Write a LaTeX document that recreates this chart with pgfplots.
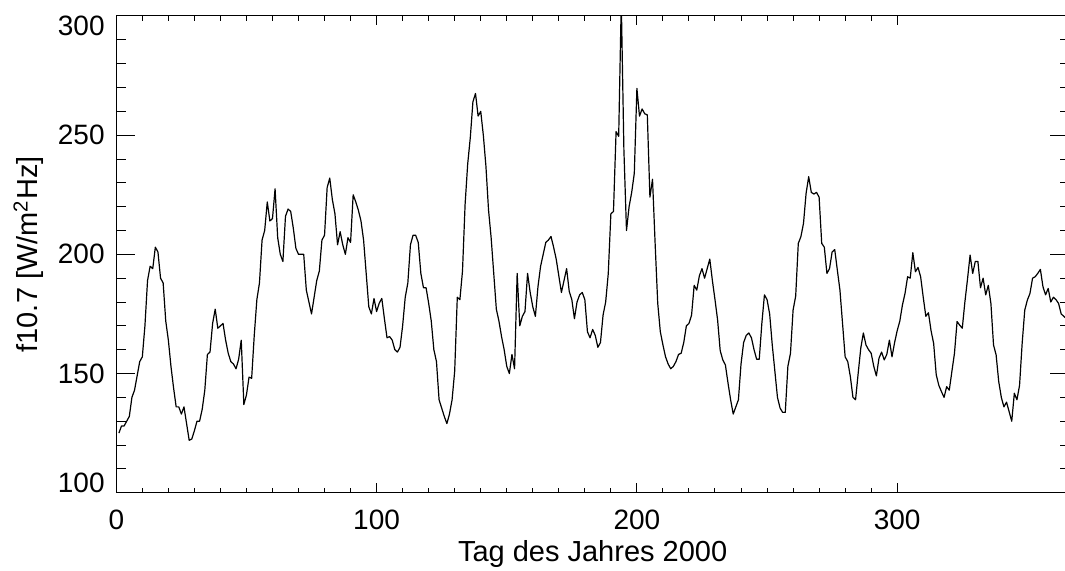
\documentclass[border=0pt]{standalone}
\usepackage{fontspec}
\setmainfont{Liberation Sans}
\usepackage{pgfplots}
\usepackage{pgfplotstable}
\pgfplotsset{compat=1.18}
\pgfplotstableread{
day f
1 125
2 128
3 128
4 130
5 132
6 140
7 143
8 149
9 155
10 157
11 170
12 189
13 195
14 194
15 203
16 201
17 190
18 188
19 172
20 164
21 153
22 144
23 136
24 136
25 133
26 136
27 129
28 122
29 122.5
30 126
31 130
32 130
33 135
34 143
35 158
36 159
37 171
38 177
39 169
40 170
41 171
42 164
43 158.5
44 155
45 154
46 152
47 156
48 164
49 137
50 141
51 148.5
52 148
53 166
54 181
55 188
56 206
57 210
58 222
59 214
60 215
61 227.5
62 207
63 200
64 197
65 216
66 219
67 218
68 211
69 202.5
70 200
71 200
72 200
73 185
74 180
75 175
76 182
77 189
78 193
79 206
80 208
81 228
82 232
83 223
84 217
85 204
86 209.5
87 204
88 200
89 207
90 205
91 225
92 222
93 218.5
94 214
95 206
96 192
97 178
98 175
99 181.5
100 176
101 179.5
102 181.5
103 173
104 165
105 165.5
106 164
107 160
108 159
109 161
110 170
111 182
112 188
113 204
114 208
115 208
116 205
117 192
118 186
119 186
120 179.5
121 172
122 160
123 155
124 139
125 135.5
126 132
127 129
128 133
129 139
130 151
131 182
132 181
133 193
134 221
135 238
136 249
137 264
138 267.5
139 258
140 260
141 250
142 237
143 218.6
144 207
145 192
146 177
147 172
148 165.5
149 160
150 153
151 150
152 158
153 152
154 192
155 170
156 174
157 176
158 192
159 184
160 178
161 174
162 186.5
163 195
164 200
165 205
166 206
167 207.5
168 203
169 198
170 191
171 184
172 189
173 194
174 184.5
175 181
176 173
177 180
178 183
179 184
180 181
181 167.5
182 165
183 168.5
184 166
185 161
186 163
187 174.5
188 180
189 192
190 217
191 218
192 251.5
193 249.5
194 306
195 244
196 210
197 220
198 226
199 234
200 269.6
201 258
202 261
203 259
204 258.5
205 224
206 231.5
207 204.6
208 179.5
209 167.5
210 162
211 157
212 154
213 152
214 153
215 155
216 158
217 158.5
218 163
219 170
220 171
221 174.5
222 187
223 185
224 191
225 194
226 190
227 194
228 198
229 189
230 181
231 172.5
232 159.6
233 155.7
234 153.6
235 146
236 139
237 133
238 136
239 139
240 154
241 163
242 166
243 167
244 165
245 160
246 156
247 156
248 171
249 183
250 181
251 175
252 162
253 151
254 140
255 135.5
256 133.7
257 133.7
258 153
259 158.5
260 176.6
261 182.5
262 204.6
263 207.4
264 213
265 225.6
266 232.6
267 226
268 225.3
269 226
270 224
271 204.6
272 203
273 192
274 194
275 201
276 202
277 193.4
278 185
279 171
280 157
281 155
282 148.7
283 140
284 139
285 150
286 160.6
287 167
288 162
289 160
290 158.5
291 153
292 149
293 156.4
294 159
295 155.7
296 158
297 164
298 157
299 163
300 168
301 172
302 178.7
303 183.6
304 190.6
305 190
306 200.7
307 192.7
308 194.5
309 190.6
310 182
311 174
312 175.5
313 168
314 162.6
315 149.4
316 145
317 142.4
318 140
319 144.5
320 143
321 150.8
322 158.5
323 171.8
324 170.3
325 169
326 180
327 189.5
328 199.7
329 192
330 197
331 197
332 186
333 190
334 183
335 187
336 179.4
337 162
338 157.8
339 146.6
340 140
341 136
342 138
343 134
344 130
345 141.7
346 139
347 145
348 162.6
349 176.6
350 180.8
351 183.6
352 190
353 190.6
354 192
355 193.7
356 186.4
357 183
358 185.7
359 180
360 182
361 181
362 179.4
363 175
364 174
365 173
}\fdata
\begin{document}
\begin{tikzpicture}[font=\fontsize{14pt}{16.8pt}\selectfont]
\pgfplotsset{
  common/.style={
    scale only axis, width=476.35pt, height=238.35pt,
    xmin=0, xmax=366, ymin=100, ymax=300,
    axis line style={line width=0.5pt},
    every tick/.style={black, line width=0.5pt},
    tick align=inside,
    /pgf/number format/assume math mode=true,
  }
}
\begin{axis}[common,
  xtick={0,100,200,300}, minor x tick num=9,
  xticklabels={0,100,200,300},
  ytick=\empty,
  major tick length=4.75pt, minor tick length=2.4pt,
  xticklabel style={anchor=base, yshift=-18.65pt, inner sep=0pt},
  xlabel={Tag des Jahres 2000},
  xlabel style={at={(axis description cs:0.5,-0.1443)}, anchor=base, inner sep=0pt, font=\fontsize{14.5pt}{17.4pt}\selectfont},
]
\addplot[black, line width=0.6pt, line join=round] table[x=day, y=f] {\fdata};
\coordinate (SW) at (rel axis cs:0,0);
\coordinate (NE) at (rel axis cs:1,1);
\end{axis}
\begin{axis}[common,
  xtick=\empty,
  ytick={100,150,200,250,300}, minor y tick num=4,
  yticklabels={{\rule[-10pt]{0pt}{10pt}100},150,200,250,{\rule{0pt}{20pt}300}},
  major tick length=9.5pt, minor tick length=4.75pt,
  yticklabel style={anchor=east, inner sep=0pt, xshift=-5.65pt},
  ylabel={f10.7 [W/m\textsuperscript{2}Hz]},
  ylabel style={at={(axis description cs:-0.092,0.5)}, anchor=center, inner sep=0pt, font=\fontsize{14.5pt}{17.4pt}\selectfont},
]
\end{axis}
\pgfresetboundingbox
\useasboundingbox ([xshift=-58.15pt,yshift=-39.15pt]SW) rectangle ([xshift=-2pt,yshift=8pt]NE);
\end{tikzpicture}
\end{document}
